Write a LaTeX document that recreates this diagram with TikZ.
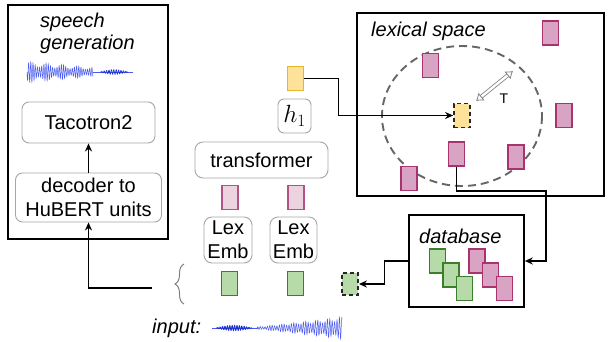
\documentclass[tikz,border=0pt]{standalone}
\usepackage{fontspec}
\setmainfont{Liberation Sans}
\usetikzlibrary{arrows.meta,decorations.pathreplacing,calc}
\definecolor{pinkB}{HTML}{A8336F}
\definecolor{pinkF}{HTML}{D9A3C3}
\definecolor{pinkL}{HTML}{EDD3E0}
\definecolor{greenB}{HTML}{3B7F2C}
\definecolor{greenF}{HTML}{B7DAA9}
\definecolor{yelB}{HTML}{E9B52F}
\definecolor{yelF}{HTML}{FFE29A}
\definecolor{wave}{HTML}{4A5BEE}
\definecolor{waveD}{HTML}{1A2FD0}
\begin{document}
\begin{tikzpicture}[x=1pt,y=-1pt,
  txt/.style={font=\fontsize{20}{24}\selectfont},
  itxt/.style={font=\fontsize{20}{24}\selectfont\itshape},
  rbox/.style={draw=gray!70, line width=0.9pt, rounded corners=7pt, fill=white, align=center, inner sep=0pt, txt},
  frame/.style={draw=black, line width=1.6pt, inner sep=0pt},
  cell/.style={minimum width=16pt, minimum height=24pt, inner sep=0pt, line width=1.8pt},
  pcell/.style={cell, draw=pinkB, fill=pinkF},
  lpcell/.style={cell, draw=pinkB!85, fill=pinkL},
  gcell/.style={cell, draw=greenB, fill=greenF},
  ycell/.style={cell, draw=yelB, fill=yelF},
  dcell/.style={draw=black!85, dash pattern=on 4pt off 3pt},
  arr/.style={-{Stealth[length=8pt,width=7pt]}, line width=1.4pt}
]
\useasboundingbox (0,0) rectangle (608,341);

% frames
\node[frame, minimum width=160pt, minimum height=234pt] (sg) at (88,122) {};
\node[frame, minimum width=247pt, minimum height=183pt] (lx) at (480.5,104.5) {};
\node[frame, minimum width=115pt, minimum height=92pt] (db) at (466.5,261) {};

% speech generation
\node[itxt, anchor=base west, inner sep=0pt] (sp1) at (40,27) {speech};
\node[itxt, anchor=base west, inner sep=0pt] (sp2) at (40,49) {generation};
\draw[wave, line width=0.5pt] plot[domain=27:93, samples=420] (\x, {72 + (10.5-0.09*(\x-27))*(0.75+0.25*sin((\x-27)*23))*sin((\x-27)*165)});
\draw[wave, line width=0.6pt] (93,72) -- (133,72);
\draw[waveD, line width=0.6pt] plot[domain=100:128, samples=160] (\x,{72+2.4*sin((\x-100)*150)*sin((\x-100)*6.4)});

\node[rbox, minimum width=133pt, minimum height=41pt] (taco) at (88.5,122.5) {Tacotron2};
\node[rbox, minimum width=146pt, minimum height=49pt] (dec) at (88.5,197.5) {decoder to\\HuBERT units};
\draw[arr] (dec.north) -- (taco.south);

% middle column
\node[ycell] (yh) at (295.5,78.5) {};
\node[rbox, minimum width=33pt, minimum height=34pt, rounded corners=6pt, font=\fontsize{24}{26}\selectfont] (hb) at (294.5,116) {$h_1$};
\node[rbox, minimum width=133pt, minimum height=36pt, rounded corners=8pt] (tr) at (261.5,160) {transformer};
\node[lpcell] (m1) at (230,197.5) {};
\node[lpcell] (m2) at (296,197.5) {};
\node[rbox, minimum width=48pt, minimum height=46pt, rounded corners=8pt] (lex1) at (228,240) {Lex\\Emb};
\node[rbox, minimum width=47pt, minimum height=46pt, rounded corners=8pt] (lex2) at (293.5,240) {Lex\\Emb};
\node[gcell] (g1) at (229.5,283.5) {};
\node[gcell] (g2) at (295.5,283.5) {};
\node[gcell, dcell, minimum height=22pt] (dg) at (350,284) {};

\draw[gray, line width=1pt, decorate, decoration={brace, amplitude=9pt}] (184,304) -- (184,264);
\coordinate (bl) at (152,288);
\draw[arr] (bl) -| (dec.south);

% input
\node[itxt, anchor=base west, inner sep=0pt] (inp) at (152,333) {input:};
\draw[wave, line width=0.6pt] (212,328) -- (258,328);
\draw[waveD, line width=0.8pt] plot[domain=216:252, samples=200] (\x,{328+2.6*sin((\x-216)*150)*sin((\x-216)*5)});
\draw[wave, line width=0.5pt] plot[domain=256:342, samples=500] (\x,{328+(1+(\x-256)/86*10)*(0.8+0.2*sin((\x-256)*31))*sin((\x-256)*150)});

% lexical space
\node[itxt, anchor=base west, inner sep=0pt] (lxl) at (371,36) {lexical space};
\draw[gray!80!black, line width=1.9pt, dash pattern=on 8pt off 5pt] (462,116) ellipse [x radius=80, y radius=70];
\node[pcell] (L1) at (430.5,65.5) {};
\node[pcell] (L2) at (550.5,33) {};
\node[pcell] (L3) at (564,115.5) {};
\node[pcell] (L4) at (456.5,154) {};
\node[pcell] (L5) at (516,157) {};
\node[pcell] (L6) at (409,178.5) {};
\node[ycell, dcell] (Y) at (462,115.5) {};
\coordinate (ta) at (476,101);
\coordinate (tb) at (513,71);
\draw[gray, double=white, double distance=2.4pt, line width=0.8pt, {Latex[open,length=7pt,width=10pt]}-{Latex[open,length=7pt,width=10pt]}] (ta) -- (tb);
\node[font=\fontsize{14}{16}\selectfont] (tl) at (504,99) {T};

% database
\node[itxt, anchor=base west, inner sep=0pt] (dbl) at (419,243) {database};
\node[gcell] (D1) at (437.5,261) {};
\node[gcell] (D2) at (451,275) {};
\node[gcell] (D3) at (464.5,288.5) {};
\node[pcell] (P1) at (477,261) {};
\node[pcell] (P2) at (490.5,275) {};
\node[pcell] (P3) at (504.5,288.5) {};

% connectors
\draw[arr] (yh.east) -- ++(34,0) |- (Y.west);
\draw[arr] (L4.south) -- ++(0,24) -| ($(db.east)+(21,0)$) -- (db.east);
\draw[arr] (db.west) -- ++(-24,0) |- (dg.east);
\end{tikzpicture}
\end{document}
